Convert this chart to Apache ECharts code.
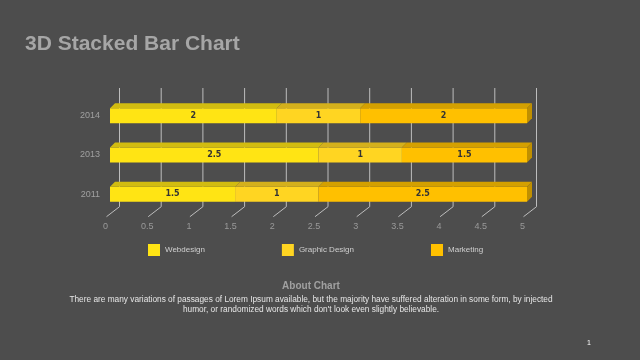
<!DOCTYPE html>
<html>
<head>
<meta charset="utf-8">
<script src="https://cdn.jsdelivr.net/npm/echarts@6/dist/echarts.min.js"></script>
<style>
html,body{margin:0;padding:0;background:#4d4d4d;}
#c{width:640px;height:360px;}
</style>
</head>
<body>
<div id="c"></div>
<script>
var years = ['2011', '2013', '2014'];
var webdesign = [1.5, 2.5, 2];
var graphicDesign = [1, 1, 1];
var marketing = [2.5, 1.5, 2];
var seriesNames = ['Webdesign', 'Graphic Design', 'Marketing'];
var xTicks = [0, 0.5, 1, 1.5, 2, 2.5, 3, 3.5, 4, 4.5, 5];

var frontColors = ['#FFE414', '#FFD522', '#FFC000'];
var topColors = ['#D2BC10', '#D4B01C', '#D4A000'];
var sideColor = '#C09000';
var BAR = 15, DX = 5, DY = 5;

var allSeries = [webdesign, graphicDesign, marketing];

var chart = echarts.init(document.getElementById('c'));

var barSeries = seriesNames.map(function (n, k) {
  return {
    name: n, type: 'bar', stack: 'total', barWidth: BAR, z: 3,
    itemStyle: { color: frontColors[k] },
    label: { show: true, position: 'inside', color: '#333', fontSize: 8, fontWeight: 'bold', fontFamily: 'DejaVu Sans' },
    data: allSeries[k]
  };
});

var faces = {
  type: 'custom', z: 4, silent: true,
  data: years.map(function (y, i) { return [0, i]; }),
  renderItem: function (params, api) {
    var i = api.value(1);
    var children = [];
    var cum = 0;
    var yc = api.coord([0, i])[1];
    var yTop = yc - BAR / 2;
    for (var k = 0; k < allSeries.length; k++) {
      var x0 = api.coord([cum, i])[0];
      cum += allSeries[k][i];
      var x1 = api.coord([cum, i])[0];
      children.push({ type: 'polygon', shape: { points: [[x0, yTop], [x1, yTop], [x1 + DX, yTop - DY], [x0 + DX, yTop - DY]] }, style: { fill: topColors[k] } });
    }
    var xe = api.coord([cum, i])[0];
    children.push({ type: 'polygon', shape: { points: [[xe, yTop], [xe + DX, yTop - DY], [xe + DX, yTop + BAR - DY], [xe, yTop + BAR]] }, style: { fill: sideColor } });
    return { type: 'group', children: children };
  }
};

var grids = {
  type: 'custom', z: 1, silent: true,
  data: xTicks.map(function (t) { return [t, 0]; }),
  renderItem: function (params, api) {
    var cs = params.coordSys;
    var x = api.coord([api.value(0), 0])[0] + 9.5;
    var top = cs.y - 8;
    var bot = cs.y + cs.height - 7.3;
    return { type: 'polyline', shape: { points: [[x, top], [x, bot], [x - 13, bot + 10]] }, style: { stroke: '#bdbdbd', lineWidth: 1, fill: null } };
  }
};

chart.setOption({
  backgroundColor: '#4d4d4d',
  animation: false,
  title: {
    text: '3D Stacked Bar Chart', left: 20, top: 29,
    textStyle: { color: '#a6a6a6', fontSize: 21, fontWeight: 'bold', fontFamily: 'Liberation Sans' }
  },
  legend: {
    data: seriesNames, left: 143, top: 239, itemWidth: 12, itemHeight: 12, itemGap: 77,
    icon: 'rect',
    textStyle: { color: '#d0d0d0', fontSize: 8, fontFamily: 'Liberation Sans' }
  },
  grid: { left: 110, right: 113, top: 96, height: 118 },
  xAxis: {
    type: 'value', min: 0, max: 5, interval: 0.5,
    axisLine: { show: false }, axisTick: { show: false }, splitLine: { show: false },
    axisLabel: { color: '#9a9a9a', fontSize: 9, margin: 8, padding: [0, 9, 0, 0], fontFamily: 'Liberation Sans' }
  },
  yAxis: {
    type: 'category', data: years,
    axisLine: { show: false }, axisTick: { show: false },
    axisLabel: { color: '#a0a0a0', fontSize: 9, margin: 10, padding: [4, 0, 0, 0], fontFamily: 'Liberation Sans' }
  },
  graphic: [
    { type: 'text', style: { text: 'About Chart', x: 311, y: 286, textAlign: 'center', textVerticalAlign: 'middle', fill: '#a0a0a0', font: 'bold 10px "Liberation Sans"' } },
    { type: 'text', style: { text: 'There are many variations of passages of Lorem Ipsum available, but the majority have suffered alteration in some form, by injected\nhumor, or randomized words which don\'t look even slightly believable.', x: 311, y: 295, textAlign: 'center', fill: '#e6e6e6', font: '8.3px "Liberation Sans"', lineHeight: 10 } },
    { type: 'text', style: { text: '1', x: 589, y: 343, textAlign: 'center', textVerticalAlign: 'middle', fill: '#ffffff', font: '7px "Liberation Sans"' } }
  ],
  series: [grids].concat(barSeries).concat([faces])
});
</script>
</body>
</html>
